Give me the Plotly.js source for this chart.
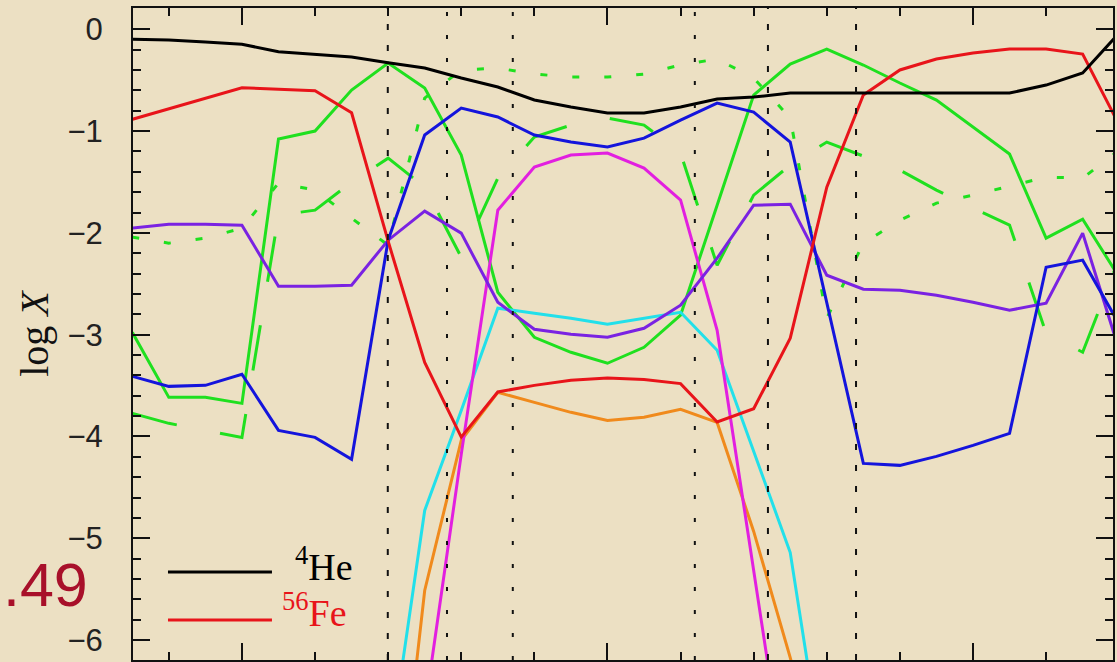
<!DOCTYPE html>
<html>
<head>
<meta charset="utf-8">
<script src="https://cdn.plot.ly/plotly-3.0.1.min.js"></script>
<style>
html,body{margin:0;padding:0;background:#ece0c3;}
#chart{width:1117px;height:662px;}
</style>
</head>
<body>
<div id="chart"></div>
<script>
// mass coordinate grid (no tick labels are visible on the x axis)
const massGrid = [0.7,0.8,0.9,1.0,1.1,1.2,1.3,1.4,1.5,1.6,1.7,1.8,1.9,2.0,2.1,2.2,2.3,2.4,2.5,2.6,2.7,2.8,2.9,3.0,3.1,3.2,3.3,3.4];
const innerGridA = [1.5,1.6,1.7,1.8,1.9,2.0,2.1,2.2,2.3,2.4,2.5];
const innerGridB = [1.4,1.5,1.6,1.7,1.8,1.9,2.0,2.1,2.2,2.3,2.4,2.5,2.6];

// log X abundances
const he4 = [-0.098,-0.105,-0.125,-0.147,-0.220,-0.243,-0.272,-0.328,-0.381,-0.479,-0.567,-0.695,-0.764,-0.823,-0.823,-0.764,-0.685,-0.666,-0.626,-0.626,-0.626,-0.626,-0.626,-0.626,-0.626,-0.548,-0.430,-0.036];
const fe56 = [-0.885,-0.782,-0.676,-0.574,-0.590,-0.604,-0.820,-2.082,-3.272,-4.006,-3.563,-3.498,-3.448,-3.426,-3.441,-3.481,-3.858,-3.727,-3.035,-1.551,-0.646,-0.400,-0.292,-0.233,-0.194,-0.194,-0.243,-0.941];
const greenSolid = [-2.977,-3.616,-3.616,-3.675,-1.079,-1.000,-0.597,-0.331,-0.577,-1.236,-2.583,-3.026,-3.173,-3.281,-3.124,-2.809,-1.728,-0.646,-0.341,-0.194,-0.351,-0.528,-0.695,-0.961,-1.226,-2.052,-1.865,-2.436];
const greenLongDash = [-3.773,-3.871,-3.940,-4.009,-1.826,-1.777,-1.502,-1.266,-1.551,-2.239,-1.462,-1.059,-0.941,-0.872,-0.941,-1.216,-2.318,-1.629,-1.334,-1.108,-1.246,-1.384,-1.580,-1.757,-1.924,-2.986,-3.173,-2.249];
const greenDotted = [-2.042,-2.101,-2.052,-1.954,-1.511,-1.580,-1.856,-2.121,-0.676,-0.400,-0.381,-0.440,-0.469,-0.469,-0.440,-0.351,-0.292,-0.479,-0.872,-2.839,-2.101,-1.875,-1.708,-1.629,-1.541,-1.452,-1.462,-1.187];
const blueSeries = [-3.409,-3.508,-3.498,-3.389,-3.940,-4.009,-4.225,-2.072,-1.039,-0.774,-0.862,-1.039,-1.108,-1.157,-1.069,-0.892,-0.725,-0.814,-1.108,-2.682,-4.265,-4.284,-4.196,-4.088,-3.970,-2.337,-2.268,-2.898];
const purpleSeries = [-1.954,-1.915,-1.915,-1.924,-2.524,-2.524,-2.514,-2.072,-1.787,-2.003,-2.682,-2.947,-2.996,-3.026,-2.937,-2.711,-2.249,-1.728,-1.718,-2.416,-2.554,-2.564,-2.613,-2.682,-2.760,-2.691,-2.003,-3.153];
const magentaSeries = [-6.693,-4.176,-1.777,-1.354,-1.236,-1.216,-1.364,-1.679,-2.957,-5.317,-7.677];
const cyanSeries = [-7.205,-4.727,-3.744,-2.740,-2.790,-2.839,-2.898,-2.839,-2.780,-3.153,-4.156,-5.140,-7.441];
const orangeSeries = [-8.699,-5.513,-4.038,-3.567,-3.665,-3.763,-3.842,-3.812,-3.734,-3.862,-4.933,-6.172,-7.578];

// zone boundaries (vertical dotted / dashed lines)
const zoneDashed = [1.399, 2.439, 2.680];
const zoneDotted = [1.561, 1.741, 2.239];

const GREEN = '#1fe01f';
function line(x, y, color, dash, name){
  return {x:x, y:y, type:'scatter', mode:'lines', name:name, showlegend:false,
          line:{color:color, width:3, dash:dash||'solid'}, hoverinfo:'skip'};
}
const traces = [
  line(massGrid, greenLongDash, GREEN, '46px,44px', 'green dashed'),
  line(massGrid, greenDotted, GREEN, '7px,25px', 'green dotted'),
  line(massGrid, greenSolid, GREEN, 'solid', 'green'),
  line(innerGridB, orangeSeries, '#f08a1c', 'solid', 'orange'),
  line(innerGridB, cyanSeries, '#22e0ea', 'solid', 'cyan'),
  line(innerGridA, magentaSeries, '#e21fe0', 'solid', 'magenta'),
  line(massGrid, purpleSeries, '#7a22e2', 'solid', 'purple'),
  line(massGrid, blueSeries, '#1414dc', 'solid', 'blue'),
  line(massGrid, fe56, '#e8141a', 'solid', '56Fe'),
  line(massGrid, he4, '#000000', 'solid', '4He')
];

const shapes = [];
zoneDashed.forEach(function(v){
  shapes.push({type:'line', xref:'x', yref:'paper', x0:v, x1:v, y0:0, y1:1,
    line:{color:'#111', width:2, dash:'6px,15px'}, layer:'above'});
});
zoneDotted.forEach(function(v){
  shapes.push({type:'line', xref:'x', yref:'paper', x0:v, x1:v, y0:0, y1:1,
    line:{color:'#111', width:2, dash:'4px,19px'}, layer:'above'});
});
// legend keys
shapes.push({type:'line', xref:'paper', yref:'paper', x0:0.0357, x1:0.1418, y0:0.135, y1:0.135, line:{color:'#000', width:3}});
shapes.push({type:'line', xref:'paper', yref:'paper', x0:0.0357, x1:0.1418, y0:0.0613, y1:0.0613, line:{color:'#e8141a', width:3}});

const annotations = [
  {xref:'paper', yref:'paper', x:0.163, y:0.148, xanchor:'left', yanchor:'middle', showarrow:false,
   text:'<sup>4</sup>He', font:{family:'Liberation Serif, serif', size:38, color:'#000'}},
  {xref:'paper', yref:'paper', x:0.150, y:0.076, xanchor:'left', yanchor:'middle', showarrow:false,
   text:'<sup>56</sup>Fe', font:{family:'Liberation Serif, serif', size:38, color:'#e8141a'}},
  {xref:'paper', yref:'paper', x:-0.044, y:0.115, xanchor:'right', yanchor:'middle', showarrow:false,
   text:'.49', font:{family:'Liberation Sans, Arial, sans-serif', size:61, color:'#a8102a'}}
];

const axisCommon = {
  showgrid:false, zeroline:false, showline:true, linewidth:2, linecolor:'#111',
  mirror:'ticks', ticks:'inside', ticklen:17, tickwidth:2, tickcolor:'#111'
};

const layout = {
  width:1117, height:662,
  margin:{l:133, r:4, t:8, b:2},
  paper_bgcolor:'#ece0c3', plot_bgcolor:'#ece0c3',
  showlegend:false,
  xaxis: Object.assign({}, axisCommon, {
    range:[0.702, 3.383], tick0:0, dtick:1, showticklabels:false,
    minor:{dtick:0.2, ticks:'inside', ticklen:8, tickwidth:2, tickcolor:'#111'}
  }),
  yaxis: Object.assign({}, axisCommon, {
    range:[-6.196, 0.209], tick0:0, dtick:1,
    minor:{dtick:0.2, ticks:'inside', ticklen:8, tickwidth:2, tickcolor:'#111'},
    tickfont:{family:'Liberation Sans, Arial, sans-serif', size:31, color:'#222'},
    ticklabelstandoff:22,
    title:{text:'log <i>X</i>', standoff:6, font:{family:'Liberation Serif, serif', size:40, color:'#111'}}
  }),
  shapes:shapes,
  annotations:annotations
};

Plotly.newPlot('chart', traces, layout, {staticPlot:true, displayModeBar:false});
</script>
</body>
</html>
